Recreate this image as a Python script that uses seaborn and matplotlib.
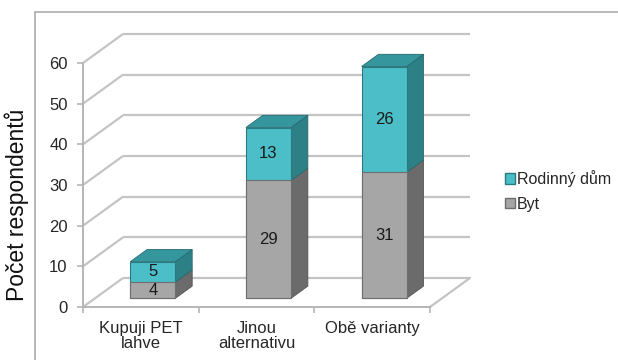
import matplotlib
matplotlib.use("Agg")
import matplotlib.pyplot as plt
import seaborn as sns
import pandas as pd
from matplotlib.patches import Polygon, Rectangle

# --- data ---------------------------------------------------------------
categories = ["Kupuji PET\nlahve", "Jinou\nalternativu", "Obě varianty"]
byt = [4, 29, 31]
rodinny_dum = [5, 13, 26]
series_names = ["Rodinný dům", "Byt"]
y_ticks = [0, 10, 20, 30, 40, 50, 60]

totals = [a + b for a, b in zip(byt, rodinny_dum)]
df = pd.DataFrame({"kategorie": categories, "Byt": byt,
                   "Rodinný dům": rodinny_dum, "celkem": totals})

# --- styling ------------------------------------------------------------
sns.set_theme(style="white")
plt.rcParams["font.family"] = ["Liberation Sans", "DejaVu Sans"]

teal_front, teal_side, teal_top = "#4BBEC7", "#2E8087", "#35969E"
teal_edge = "#2A7A80"
gray_front, gray_side = "#A6A6A6", "#6B6B6B"
gray_edge = "#6E6E6E"
grid_col = "#C4C4C4"
text_col = "#262626"

W, H = 618, 360
fig = plt.figure(figsize=(W / 100, H / 100), dpi=100)
ax = fig.add_axes([83 / W, 53 / H, 347 / W, 244 / H])

# plot frame
fig.add_artist(Rectangle((35 / W, -0.1), 1.2, 1.1 - 12 / H,
                         transform=fig.transFigure, fill=False,
                         edgecolor="#ABABAB", linewidth=1.2))

bar_w = 0.39
sns.barplot(data=df, x="kategorie", y="celkem", color=teal_front,
            width=bar_w, saturation=1, ax=ax, edgecolor=teal_edge,
            linewidth=0.8, zorder=5)
sns.barplot(data=df, x="kategorie", y="Byt", color=gray_front,
            width=bar_w, saturation=1, ax=ax, edgecolor=gray_edge,
            linewidth=0.8, zorder=6)

ax.set_xlim(-0.5, 2.5)
ax.set_ylim(0, 60)

# depth of the floor / left wall expressed in data units
px_x = 347 / 3.0
px_y = 244 / 60.0
depth_x, depth_y = 40 / px_x, 29 / px_y
front_t, bar_t = 0.3, 0.42
fx, fy = depth_x * front_t, depth_y * front_t
bx, by = depth_x * bar_t, depth_y * bar_t

# back wall and left wall grid lines
for v in y_ticks:
    ax.plot([-0.5, -0.5 + depth_x], [v, v + depth_y], color=grid_col,
            lw=1.6, clip_on=False, zorder=1, solid_capstyle="butt")
    ax.plot([-0.5 + depth_x, 2.5 + depth_x], [v + depth_y, v + depth_y],
            color=grid_col, lw=1.6, clip_on=False, zorder=1,
            solid_capstyle="butt")
# right floor edge
ax.plot([2.5, 2.5 + depth_x], [0, depth_y], color=grid_col, lw=1.6,
        clip_on=False, zorder=1)

# move front faces into the middle of the floor and add 3-D faces
n = len(categories)
patches = list(ax.patches)
teal_bars = patches[:n]
gray_bars = patches[n:2 * n]


def add_side(x1, ylo, yhi, color, edge):
    pts = [(x1, ylo), (x1, yhi), (x1 + bx, yhi + by), (x1 + bx, ylo + by)]
    ax.add_patch(Polygon(pts, closed=True, facecolor=color, edgecolor=edge,
                         linewidth=0.6, zorder=4, clip_on=False))


def add_top(x0, x1, y, color, edge):
    pts = [(x0, y), (x1, y), (x1 + bx, y + by), (x0 + bx, y + by)]
    ax.add_patch(Polygon(pts, closed=True, facecolor=color, edgecolor=edge,
                         linewidth=0.6, zorder=4, clip_on=False))


for i in range(n):
    for p in (teal_bars[i], gray_bars[i]):
        p.set_x(p.get_x() + fx)
        p.set_y(p.get_y() + fy)
        p.set_clip_on(False)
    tp, gp = teal_bars[i], gray_bars[i]
    x0, x1 = tp.get_x(), tp.get_x() + tp.get_width()
    base = gp.get_y()
    mid = base + gp.get_height()
    top = tp.get_y() + tp.get_height()
    add_side(x1, base, mid, gray_side, "#555555")
    add_side(x1, mid, top, teal_side, "#256B70")
    add_top(x0, x1, top, teal_top, "#256B70")
    cx = (x0 + x1) / 2
    ax.text(cx, (base + mid) / 2, f"{byt[i]}", ha="center", va="center",
            fontsize=12, color="#1A1A1A", zorder=8)
    ax.text(cx, (mid + top) / 2, f"{rodinny_dum[i]}", ha="center",
            va="center", fontsize=12, color="#1A1A1A", zorder=8)

# axes
for s in ("top", "right"):
    ax.spines[s].set_visible(False)
for s in ("left", "bottom"):
    ax.spines[s].set_color("#B5B5B5")
    ax.spines[s].set_linewidth(1.4)
    ax.spines[s].set_zorder(2)

ax.set_yticks(y_ticks)
ax.set_yticklabels([str(v) for v in y_ticks], fontsize=12, color=text_col)
ax.tick_params(axis="y", direction="out", length=4, width=1.2,
               color="#B5B5B5", pad=7, left=True)

ax.set_xticks([-0.5, 0.5, 1.5, 2.5])
ax.set_xticklabels([])
ax.set_xticks(range(n), categories, minor=True)
ax.tick_params(axis="x", which="major", direction="out", length=4,
               width=1.2, color="#B5B5B5", bottom=True)
ax.tick_params(axis="x", which="minor", length=0, pad=10, labelsize=12,
               labelcolor=text_col)
for lbl in ax.get_xticklabels(minor=True):
    lbl.set_linespacing(1.0)

ax.set_xlabel("")
ax.set_ylabel("Počet respondentů", fontsize=16.5, color="#111111")
ax.yaxis.set_label_coords(-0.155, 0.42)
ax.grid(False)

# legend
handles = [Rectangle((0, 0), 1, 1, facecolor=teal_front, edgecolor=teal_edge),
           Rectangle((0, 0), 1, 1, facecolor=gray_front, edgecolor=gray_edge)]
fig.legend(handles, series_names, loc="center left",
           bbox_to_anchor=(497 / W, 1 - 191 / H), frameon=False,
           fontsize=11.5, labelcolor=text_col, handlelength=0.6,
           handleheight=0.6, handletextpad=0.15, labelspacing=0.6,
           borderpad=0)

fig.savefig("out.png", dpi=100)
